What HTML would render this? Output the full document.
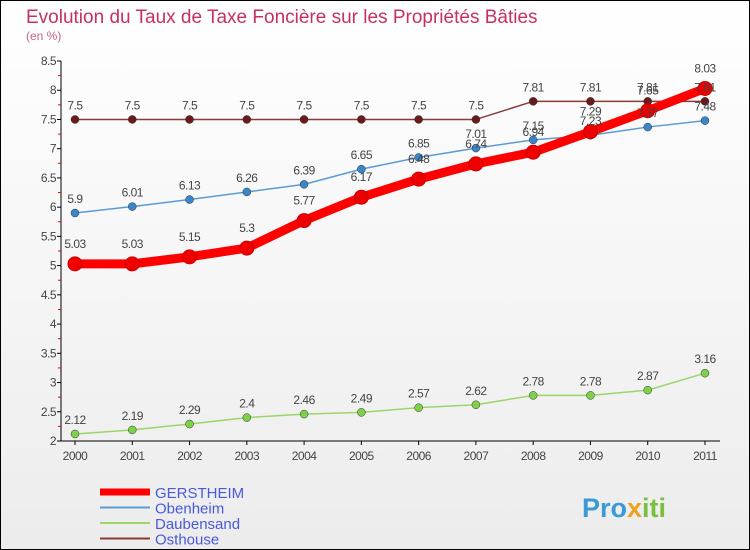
<!DOCTYPE html>
<html><head><meta charset="utf-8"><style>
body{margin:0;width:750px;height:550px;overflow:hidden;font-family:"Liberation Sans",sans-serif}
#c{position:absolute;left:0;top:0;width:748px;height:548px;border:1px solid #000;background:linear-gradient(#fff,#ececec)}
</style></head><body>
<div id="c">
<svg id="s" width="750" height="550" style="position:absolute;left:-1px;top:-1px">
<text x="26" y="23" font-size="19" fill="#c8305f">Evolution du Taux de Taxe Foncière sur les Propriétés Bâties</text>
<text x="26" y="40" font-size="12" fill="#c8608a">(en %)</text>
</svg></div>
<script>
const years=["2000","2001","2002","2003","2004","2005","2006","2007","2008","2009","2010","2011"];
const yTicks=[2,2.5,3,3.5,4,4.5,5,5.5,6,6.5,7,7.5,8,8.5];
const gerstheim=[5.03,5.03,5.15,5.3,5.77,6.17,6.48,6.74,6.94,7.29,7.65,8.03];
const obenheim=[5.9,6.01,6.13,6.26,6.39,6.65,6.85,7.01,7.15,7.23,7.37,7.48];
const daubensand=[2.12,2.19,2.29,2.4,2.46,2.49,2.57,2.62,2.78,2.78,2.87,3.16];
const osthouse=[7.5,7.5,7.5,7.5,7.5,7.5,7.5,7.5,7.81,7.81,7.81,7.81];
const names=["GERSTHEIM","Obenheim","Daubensand","Osthouse"];
const s=document.getElementById('s'),NS="http://www.w3.org/2000/svg";
const X=i=>75+i*(630/11), Y=v=>441-(v-2)*(380/6.5);
function el(t,a,txt){const e=document.createElementNS(NS,t);for(const k in a)e.setAttribute(k,a[k]);if(txt!==undefined)e.textContent=txt;s.appendChild(e);return e;}
let e=el('line',{x1:61,y1:61,x2:61,y2:441,stroke:'#000'});


e=el('line',{x1:61,y1:441,x2:720,y2:441,stroke:'#000'});


yTicks.forEach(v=>{
 el('line',{x1:57,y1:Y(v),x2:61,y2:Y(v),stroke:'#000'});
 if(v<8.5)el('line',{x1:58,y1:Y(v+0.25),x2:61,y2:Y(v+0.25),stroke:'#e00'});
 const t=el('text',{x:56,y:Y(v)+4,'font-size':12,fill:'#444','text-anchor':'end','letter-spacing':'-0.5'},String(v));
 
 
});
years.forEach((y,i)=>{
 el('line',{x1:X(i),y1:441,x2:X(i),y2:445,stroke:'#000'});
 const t=el('text',{x:X(i),y:460,'font-size':12,fill:'#444','text-anchor':'middle','letter-spacing':'-0.5'},y);
 
 
});
const series=[
 {d:osthouse,c:'#8b3a3a',f:'#6a1a1a',w:1.5,r:4,n:'osthouse'},
 {d:obenheim,c:'#5b9bd5',f:'#3a86c8',w:1.5,r:4,n:'obenheim'},
 {d:daubensand,c:'#9ad66a',f:'#7ed04a',w:1.5,r:4,n:'daubensand'},
 {d:gerstheim,c:'#ff0000',f:'#ee0000',w:9,r:7,n:'gerstheim'}];
series.forEach(S=>{
 const p=el('polyline',{points:S.d.map((v,i)=>X(i)+','+Y(v)).join(' '),fill:'none',stroke:S.c,'stroke-width':S.w,'stroke-linejoin':'round'});
 
 
 S.d.forEach((v,i)=>{
  const c=el('circle',{cx:X(i),cy:Y(v),r:S.r,fill:S.f,stroke:S.n=='gerstheim'?'#c00':'#333','stroke-width':S.n=='gerstheim'?1:0.5});
  
  
 });
});
series.forEach(S=>{S.d.forEach((v,i)=>{
 const t=el('text',{x:X(i),y:Y(v)-(S.n=='gerstheim'?16:10),'font-size':12,fill:'#444','text-anchor':'middle','letter-spacing':'-0.5'},String(v));
 
 
});});
const lc=['#ff0000','#5b9bd5','#9ad66a','#8b3a3a'],lw=[7,2,2,2];
names.forEach((n,i)=>{
 const y=492+i*15.5;
 el('line',{x1:100,y1:y,x2:150,y2:y,stroke:lc[i],'stroke-width':lw[i]});
 const t=el('text',{x:155,y:y+6,'font-size':15,fill:'#4a5ad8'},n);
 
 
});
const logo=el('text',{x:582,y:517,'font-size':27,'font-weight':'bold',fill:'#3a9ad8'},'');


[['Pro','#3a9ad8'],['x','#f0a020'],['iti','#7ac040']].forEach(([t,c])=>{const sp=document.createElementNS(NS,'tspan');sp.setAttribute('fill',c);sp.textContent=t;logo.appendChild(sp);});
</script>
</body></html>
